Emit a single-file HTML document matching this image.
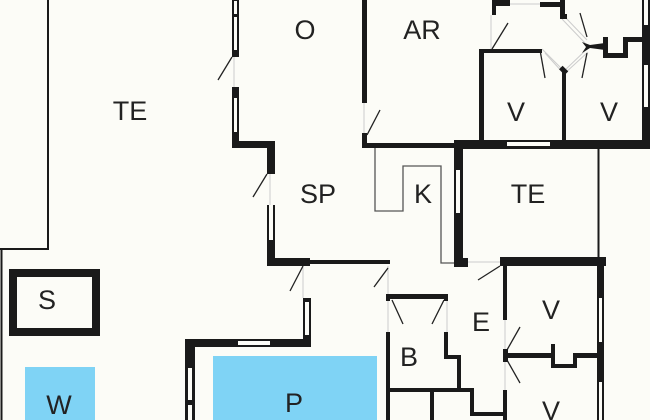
<!DOCTYPE html>
<html><head><meta charset="utf-8"><style>
html,body{margin:0;padding:0;background:#fcfcf7;}
svg{display:block}
text{font-family:"Liberation Sans",sans-serif;font-size:27px;fill:#222;text-anchor:middle;}
</style></head><body>
<svg width="650" height="420" viewBox="0 0 650 420" xmlns="http://www.w3.org/2000/svg">
<rect width="650" height="420" fill="#fcfcf7"/>
<!-- pools -->
<rect x="25" y="367" width="70" height="53" fill="#7fd3f5"/>
<rect x="213" y="356" width="164" height="64" fill="#7fd3f5"/>
<!-- thin lines -->
<g stroke="#1a1a1a" stroke-width="2" fill="none">
<polyline points="48,0 48,249 0,249"/>
<line x1="1.5" y1="249" x2="1.5" y2="420"/>
<line x1="598.5" y1="148" x2="598.5" y2="258"/>
</g>
<g stroke="#555" stroke-width="1.3" fill="none">
<polyline points="375,148 375,211 403,211 403,166 441,166 441,263 455,263"/>
</g>
<!-- light gray openings -->
<g stroke="#ccc" stroke-width="1" fill="none">
<line x1="234" y1="57" x2="234" y2="87"/>
<line x1="270" y1="174" x2="270" y2="205"/>
<line x1="364" y1="103" x2="364" y2="133"/>
<line x1="303" y1="266" x2="303" y2="298"/>
<line x1="388" y1="266" x2="388" y2="294"/>
<line x1="388" y1="299" x2="388" y2="332"/>
<line x1="447" y1="299" x2="447" y2="332"/>
<line x1="505" y1="320" x2="505" y2="390"/>
<line x1="468" y1="262" x2="500" y2="262"/>
<line x1="491" y1="15" x2="491" y2="49"/>
<line x1="510" y1="4" x2="540" y2="4"/>
<line x1="542" y1="49" x2="564" y2="71"/><line x1="545" y1="53" x2="564" y2="74"/>
<line x1="564" y1="71" x2="587" y2="49"/><line x1="564" y1="74" x2="588" y2="52"/>
<line x1="564" y1="16" x2="587" y2="40"/><line x1="562" y1="19" x2="585" y2="43"/>
</g>
<!-- door swings -->
<g stroke="#222" stroke-width="1.3">
<line x1="232" y1="57" x2="218" y2="80"/>
<line x1="267" y1="174" x2="253" y2="197"/>
<line x1="367" y1="135" x2="380" y2="110"/>
<line x1="303" y1="266" x2="290" y2="291"/>
<line x1="388" y1="268" x2="374" y2="287"/>
<line x1="392" y1="300" x2="403" y2="324"/>
<line x1="444" y1="300" x2="432" y2="324"/>
<line x1="500" y1="266" x2="478" y2="280"/>
<line x1="507" y1="350" x2="520" y2="327"/>
<line x1="507" y1="360" x2="520" y2="383"/>
<line x1="492" y1="49" x2="508" y2="23"/>
<line x1="540" y1="50" x2="545" y2="78"/>
<line x1="580" y1="13" x2="587" y2="37"/>
<line x1="587" y1="53" x2="582" y2="78"/>
</g>
<!-- walls -->
<g fill="#1a1a1a">
<!-- O/TE wall -->
<rect x="232" y="0" width="7" height="57"/>
<rect x="232" y="87" width="7" height="61"/>
<rect x="232" y="141" width="43" height="7"/>
<rect x="267" y="141" width="8" height="33"/>
<rect x="267" y="205" width="8" height="61"/>
<rect x="267" y="258" width="43" height="8"/>
<rect x="310" y="260" width="80" height="4"/>
<!-- AR -->
<rect x="362" y="0" width="5" height="103"/>
<rect x="362" y="133" width="5" height="15"/>
<rect x="362" y="143" width="95" height="5"/>
<rect x="455" y="140" width="195" height="9"/>
<rect x="454" y="140" width="9" height="127"/>
<rect x="454" y="258" width="14" height="9"/>
<rect x="500" y="257" width="106" height="9"/>
<!-- V rooms -->
<rect x="479" y="49" width="5" height="92"/>
<rect x="479" y="49" width="63" height="4"/>
<rect x="562" y="70" width="4" height="72"/>
<rect x="560" y="68" width="8" height="5" transform="rotate(45 564 70)"/>
<rect x="642" y="0" width="8" height="142"/>
<rect x="492" y="0" width="4" height="15"/>
<rect x="492" y="0" width="18" height="6"/>
<rect x="540" y="2" width="23" height="5"/>
<rect x="560" y="0" width="5" height="17"/>
<rect x="560" y="14" width="7" height="5"/>
<polygon points="582,42 590,45 605,43 605,50 590,48 582,53 586,47"/>
<rect x="603" y="37" width="5" height="21"/>
<rect x="603" y="53" width="24" height="5"/>
<rect x="623" y="37" width="5" height="21"/>
<rect x="623" y="37" width="22" height="5"/>
<!-- S -->
<rect x="9" y="269" width="91" height="67"/>
<!-- P walls -->
<rect x="185" y="339" width="10" height="81"/>
<rect x="185" y="339" width="126" height="8"/>
<rect x="303" y="298" width="8" height="49"/>
<!-- B -->
<rect x="386" y="294" width="62" height="5"/>
<rect x="386" y="294" width="4" height="7"/>
<rect x="444" y="294" width="4" height="7"/>
<rect x="386" y="332" width="4" height="88"/>
<rect x="444" y="332" width="4" height="27"/>
<rect x="444" y="355" width="17" height="4"/>
<rect x="457" y="355" width="4" height="37"/>
<rect x="386" y="388" width="88" height="4"/>
<rect x="430" y="388" width="4" height="32"/>
<rect x="470" y="388" width="4" height="28"/>
<rect x="470" y="412" width="37" height="4"/>
<!-- E / V -->
<rect x="503" y="257" width="4" height="63"/>
<rect x="503" y="390" width="4" height="30"/>
<rect x="503" y="353" width="52" height="5"/>
<rect x="503" y="349" width="5" height="13"/>
<rect x="551" y="344" width="4" height="24"/>
<rect x="551" y="364" width="26" height="4"/>
<rect x="573" y="353" width="4" height="15"/>
<rect x="573" y="353" width="30" height="5"/>
<rect x="597" y="257" width="7" height="163"/>
</g>
<!-- windows / white inner -->
<g fill="#fcfcf7">
<rect x="17" y="277" width="75" height="51"/>
<rect x="234" y="1" width="3" height="13"/>
<rect x="234" y="17" width="3" height="33"/>
<rect x="234" y="98" width="3" height="34"/>
<rect x="269" y="205" width="4" height="35"/>
<rect x="507" y="142" width="43" height="4"/>
<rect x="456" y="170" width="4" height="43"/>
<rect x="644" y="0" width="4" height="25"/>
<rect x="644" y="65" width="4" height="42"/>
<rect x="188" y="368" width="4" height="32"/>
<rect x="188" y="405" width="4" height="15"/>
<rect x="238" y="341" width="32" height="4"/>
<rect x="305" y="302" width="4" height="33"/>
<rect x="599" y="298" width="3" height="44"/>
<rect x="599" y="382" width="3" height="38"/>
</g>
<text x="305" y="39">O</text>
<text x="422" y="39">AR</text>
<text x="130" y="120">TE</text>
<text x="318" y="203">SP</text>
<text x="423" y="203">K</text>
<text x="528" y="203">TE</text>
<text x="516" y="121">V</text>
<text x="609" y="121">V</text>
<text x="47" y="309">S</text>
<text x="481" y="331">E</text>
<text x="551" y="319">V</text>
<text x="409" y="366">B</text>
<text x="59" y="414">W</text>
<text x="294" y="412">P</text>
<text x="551" y="420">V</text>
</svg>
</body></html>
